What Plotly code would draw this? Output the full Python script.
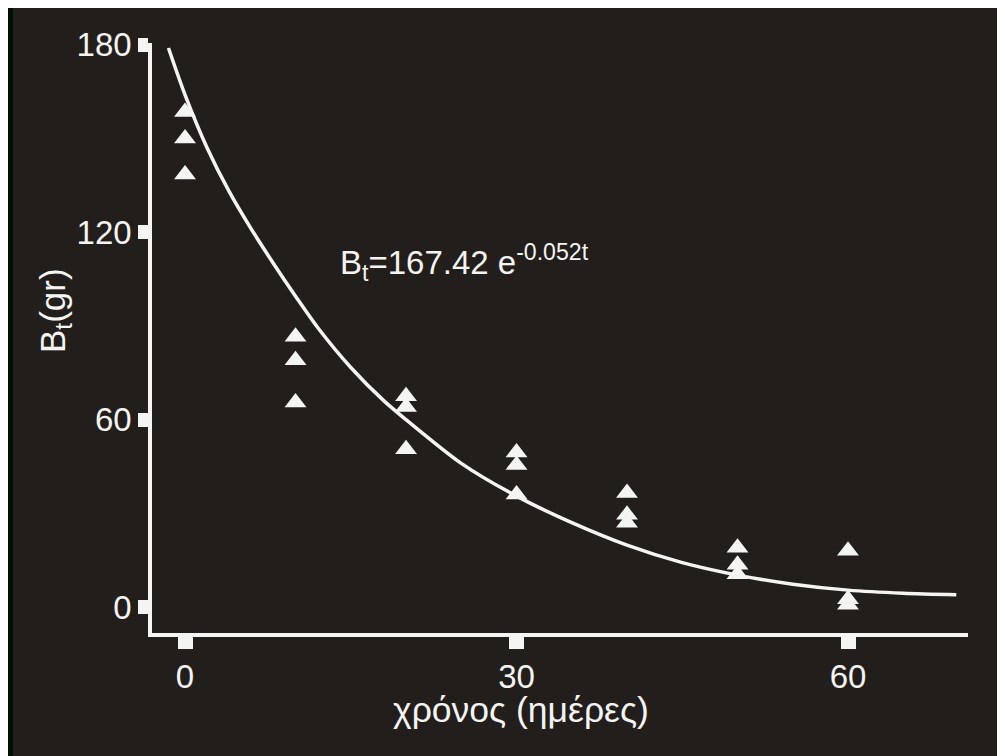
import plotly.graph_objects as go

# Data
days = [0, 0, 0, 10, 10, 10, 20, 20, 20, 30, 30, 30, 40, 40, 40, 50, 50, 50, 60, 60, 60]
biomass = [158.5, 150, 138.5, 86.5, 79, 65.5, 67.5, 64, 50.5, 49.5, 45.5, 36,
           36.5, 29.5, 27, 19, 13.5, 10.5, 18, 2.5, 0.7]

# Fitted curve as drawn in the picture (Bt = 167.42 e^(-0.052 t)), read point by point
curve_t = [-1.5, 0, 2, 4, 6, 8, 10, 12, 15, 18, 20, 25, 30, 35, 40, 45, 50, 55, 60, 65, 69.8]
curve_B = [179, 164, 147, 133, 121, 110, 99.5, 89.5, 76.7, 66, 60, 46, 35.5, 27, 19.8,
           14.2, 10.2, 7.3, 5.4, 4.4, 3.9]

x_ticks = [0, 30, 60]
y_ticks = [0, 60, 120, 180]

W, H = 1005, 756
OFF = 8  # page offset of the figure
L, R, T, B = 152 - OFF, 37 + OFF, 43 - OFF, 123 + OFF
BG = "#221e1c"
BORDER = "#001000"
FG = "#f4f4f2"
FONT = "Liberation Sans, Arial, sans-serif"

pw = W - L - R
ph = H - T - B


def px(sx):
    return (sx - OFF - L) / pw


def py(sy):
    return (H - B - (sy - OFF)) / ph


fig = go.Figure()
fig.add_trace(go.Scatter(x=curve_t, y=curve_B, mode="lines",
                         line=dict(color=FG, width=3.5, shape="spline", smoothing=0.8),
                         hoverinfo="skip"))
fig.add_trace(go.Scatter(x=days, y=biomass, mode="markers",
                         marker=dict(symbol="triangle-up", size=19, color=FG,
                                     line=dict(width=0))))

# dark panel inside the thin green frame (top and left)
fig.add_shape(type="rect", xref="paper", yref="paper", layer="below",
              x0=px(13), x1=px(W + 30),
              y0=py(H + 30), y1=py(7),
              fillcolor=BG, line=dict(width=0))

fig.add_annotation(x=px(338), y=py(262), xref="paper", yref="paper",
                   text="B<sub>t</sub>=167.42 e<sup>-0.052t</sup>", showarrow=False,
                   xanchor="left", yanchor="middle",
                   font=dict(family=FONT, size=33, color=FG))

# axis titles
fig.add_annotation(x=px(521), y=py(710), xref="paper", yref="paper",
                   text="χρόνος (ημέρες)", showarrow=False,
                   xanchor="center", yanchor="middle",
                   font=dict(family=FONT, size=35.5, color=FG))
fig.add_annotation(x=px(55), y=py(311), xref="paper", yref="paper",
                   text="B<sub>t</sub>(gr)", showarrow=False, textangle=-90,
                   xanchor="center", yanchor="middle",
                   font=dict(family=FONT, size=35, color=FG))

fig.update_layout(
    width=W, height=H,
    margin=dict(l=L, r=R, t=T, b=B),
    paper_bgcolor=BORDER, plot_bgcolor=BG,
    showlegend=False,
    font=dict(family=FONT, color=FG, size=33),
)
fig.update_xaxes(range=[-2.99, 70.86], tickvals=x_ticks, ticks="outside",
                 ticklen=12, tickwidth=15, tickcolor=FG,
                 showline=True, linecolor=FG, linewidth=3.5,
                 showgrid=False, zeroline=False, automargin=False,
                 tickfont=dict(family=FONT, size=33, color=FG))
fig.update_yaxes(range=[-8.33, 180.6], tickvals=y_ticks, ticks="outside",
                 ticklen=10, tickwidth=14, tickcolor=FG,
                 showline=True, linecolor=FG, linewidth=3.5,
                 showgrid=False, zeroline=False, automargin=False,
                 tickfont=dict(family=FONT, size=33, color=FG))

fig.write_html("out.html")
